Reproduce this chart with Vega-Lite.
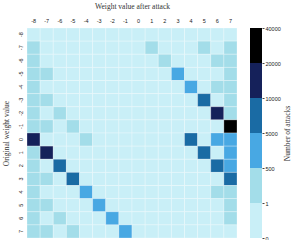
{
  "$schema": "https://vega.github.io/schema/vega-lite/v6.json",
  "padding": {"left": 2, "top": 2, "right": 0, "bottom": 0},
  "background": "white",
  "config": {
    "view": {"stroke": null},
    "concat": {"spacing": 12},
    "axis": {"labelFont": "Liberation Sans", "labelFontSize": 5.5, "labelColor": "#222", "titleFont": "Liberation Serif", "titleFontSize": 7.5, "titleFontWeight": "normal", "titleColor": "#333"}
  },
  "datasets": {
    "cells": [
      {"original": -8, "after": -8, "count": 0}, {"original": -8, "after": -7, "count": 0}, {"original": -8, "after": -6, "count": 0}, {"original": -8, "after": -5, "count": 0}, {"original": -8, "after": -4, "count": 0}, {"original": -8, "after": -3, "count": 0}, {"original": -8, "after": -2, "count": 0}, {"original": -8, "after": -1, "count": 0}, {"original": -8, "after": 0, "count": 0}, {"original": -8, "after": 1, "count": 0}, {"original": -8, "after": 2, "count": 0}, {"original": -8, "after": 3, "count": 0}, {"original": -8, "after": 4, "count": 0}, {"original": -8, "after": 5, "count": 0}, {"original": -8, "after": 6, "count": 0}, {"original": -8, "after": 7, "count": 0},
      {"original": -7, "after": -8, "count": 150}, {"original": -7, "after": -7, "count": 0}, {"original": -7, "after": -6, "count": 0}, {"original": -7, "after": -5, "count": 0}, {"original": -7, "after": -4, "count": 0}, {"original": -7, "after": -3, "count": 0}, {"original": -7, "after": -2, "count": 0}, {"original": -7, "after": -1, "count": 0}, {"original": -7, "after": 0, "count": 0}, {"original": -7, "after": 1, "count": 40}, {"original": -7, "after": 2, "count": 0}, {"original": -7, "after": 3, "count": 0}, {"original": -7, "after": 4, "count": 0}, {"original": -7, "after": 5, "count": 40}, {"original": -7, "after": 6, "count": 0}, {"original": -7, "after": 7, "count": 150},
      {"original": -6, "after": -8, "count": 150}, {"original": -6, "after": -7, "count": 0}, {"original": -6, "after": -6, "count": 0}, {"original": -6, "after": -5, "count": 0}, {"original": -6, "after": -4, "count": 0}, {"original": -6, "after": -3, "count": 0}, {"original": -6, "after": -2, "count": 0}, {"original": -6, "after": -1, "count": 0}, {"original": -6, "after": 0, "count": 0}, {"original": -6, "after": 1, "count": 0}, {"original": -6, "after": 2, "count": 40}, {"original": -6, "after": 3, "count": 0}, {"original": -6, "after": 4, "count": 0}, {"original": -6, "after": 5, "count": 0}, {"original": -6, "after": 6, "count": 60}, {"original": -6, "after": 7, "count": 150},
      {"original": -5, "after": -8, "count": 150}, {"original": -5, "after": -7, "count": 60}, {"original": -5, "after": -6, "count": 0}, {"original": -5, "after": -5, "count": 0}, {"original": -5, "after": -4, "count": 0}, {"original": -5, "after": -3, "count": 0}, {"original": -5, "after": -2, "count": 0}, {"original": -5, "after": -1, "count": 0}, {"original": -5, "after": 0, "count": 0}, {"original": -5, "after": 1, "count": 0}, {"original": -5, "after": 2, "count": 0}, {"original": -5, "after": 3, "count": 2000}, {"original": -5, "after": 4, "count": 0}, {"original": -5, "after": 5, "count": 0}, {"original": -5, "after": 6, "count": 0}, {"original": -5, "after": 7, "count": 150},
      {"original": -4, "after": -8, "count": 150}, {"original": -4, "after": -7, "count": 0}, {"original": -4, "after": -6, "count": 0}, {"original": -4, "after": -5, "count": 0}, {"original": -4, "after": -4, "count": 0}, {"original": -4, "after": -3, "count": 0}, {"original": -4, "after": -2, "count": 0}, {"original": -4, "after": -1, "count": 0}, {"original": -4, "after": 0, "count": 0}, {"original": -4, "after": 1, "count": 0}, {"original": -4, "after": 2, "count": 0}, {"original": -4, "after": 3, "count": 0}, {"original": -4, "after": 4, "count": 2000}, {"original": -4, "after": 5, "count": 0}, {"original": -4, "after": 6, "count": 60}, {"original": -4, "after": 7, "count": 150},
      {"original": -3, "after": -8, "count": 150}, {"original": -3, "after": -7, "count": 60}, {"original": -3, "after": -6, "count": 0}, {"original": -3, "after": -5, "count": 0}, {"original": -3, "after": -4, "count": 0}, {"original": -3, "after": -3, "count": 0}, {"original": -3, "after": -2, "count": 0}, {"original": -3, "after": -1, "count": 0}, {"original": -3, "after": 0, "count": 0}, {"original": -3, "after": 1, "count": 0}, {"original": -3, "after": 2, "count": 0}, {"original": -3, "after": 3, "count": 0}, {"original": -3, "after": 4, "count": 0}, {"original": -3, "after": 5, "count": 7000}, {"original": -3, "after": 6, "count": 0}, {"original": -3, "after": 7, "count": 150},
      {"original": -2, "after": -8, "count": 150}, {"original": -2, "after": -7, "count": 0}, {"original": -2, "after": -6, "count": 60}, {"original": -2, "after": -5, "count": 0}, {"original": -2, "after": -4, "count": 0}, {"original": -2, "after": -3, "count": 0}, {"original": -2, "after": -2, "count": 0}, {"original": -2, "after": -1, "count": 0}, {"original": -2, "after": 0, "count": 0}, {"original": -2, "after": 1, "count": 0}, {"original": -2, "after": 2, "count": 0}, {"original": -2, "after": 3, "count": 0}, {"original": -2, "after": 4, "count": 0}, {"original": -2, "after": 5, "count": 0}, {"original": -2, "after": 6, "count": 15000}, {"original": -2, "after": 7, "count": 150},
      {"original": -1, "after": -8, "count": 150}, {"original": -1, "after": -7, "count": 60}, {"original": -1, "after": -6, "count": 0}, {"original": -1, "after": -5, "count": 60}, {"original": -1, "after": -4, "count": 0}, {"original": -1, "after": -3, "count": 0}, {"original": -1, "after": -2, "count": 0}, {"original": -1, "after": -1, "count": 0}, {"original": -1, "after": 0, "count": 0}, {"original": -1, "after": 1, "count": 0}, {"original": -1, "after": 2, "count": 0}, {"original": -1, "after": 3, "count": 0}, {"original": -1, "after": 4, "count": 0}, {"original": -1, "after": 5, "count": 0}, {"original": -1, "after": 6, "count": 0}, {"original": -1, "after": 7, "count": 30000},
      {"original": 0, "after": -8, "count": 15000}, {"original": 0, "after": -7, "count": 0}, {"original": 0, "after": -6, "count": 0}, {"original": 0, "after": -5, "count": 0}, {"original": 0, "after": -4, "count": 60}, {"original": 0, "after": -3, "count": 0}, {"original": 0, "after": -2, "count": 0}, {"original": 0, "after": -1, "count": 0}, {"original": 0, "after": 0, "count": 0}, {"original": 0, "after": 1, "count": 0}, {"original": 0, "after": 2, "count": 0}, {"original": 0, "after": 3, "count": 0}, {"original": 0, "after": 4, "count": 7000}, {"original": 0, "after": 5, "count": 0}, {"original": 0, "after": 6, "count": 2000}, {"original": 0, "after": 7, "count": 2000},
      {"original": 1, "after": -8, "count": 150}, {"original": 1, "after": -7, "count": 15000}, {"original": 1, "after": -6, "count": 0}, {"original": 1, "after": -5, "count": 0}, {"original": 1, "after": -4, "count": 0}, {"original": 1, "after": -3, "count": 0}, {"original": 1, "after": -2, "count": 0}, {"original": 1, "after": -1, "count": 0}, {"original": 1, "after": 0, "count": 0}, {"original": 1, "after": 1, "count": 0}, {"original": 1, "after": 2, "count": 0}, {"original": 1, "after": 3, "count": 0}, {"original": 1, "after": 4, "count": 0}, {"original": 1, "after": 5, "count": 7000}, {"original": 1, "after": 6, "count": 0}, {"original": 1, "after": 7, "count": 2000},
      {"original": 2, "after": -8, "count": 150}, {"original": 2, "after": -7, "count": 0}, {"original": 2, "after": -6, "count": 7000}, {"original": 2, "after": -5, "count": 0}, {"original": 2, "after": -4, "count": 0}, {"original": 2, "after": -3, "count": 0}, {"original": 2, "after": -2, "count": 0}, {"original": 2, "after": -1, "count": 0}, {"original": 2, "after": 0, "count": 0}, {"original": 2, "after": 1, "count": 0}, {"original": 2, "after": 2, "count": 0}, {"original": 2, "after": 3, "count": 0}, {"original": 2, "after": 4, "count": 0}, {"original": 2, "after": 5, "count": 0}, {"original": 2, "after": 6, "count": 7000}, {"original": 2, "after": 7, "count": 2000},
      {"original": 3, "after": -8, "count": 150}, {"original": 3, "after": -7, "count": 60}, {"original": 3, "after": -6, "count": 0}, {"original": 3, "after": -5, "count": 7000}, {"original": 3, "after": -4, "count": 0}, {"original": 3, "after": -3, "count": 0}, {"original": 3, "after": -2, "count": 0}, {"original": 3, "after": -1, "count": 0}, {"original": 3, "after": 0, "count": 0}, {"original": 3, "after": 1, "count": 0}, {"original": 3, "after": 2, "count": 0}, {"original": 3, "after": 3, "count": 0}, {"original": 3, "after": 4, "count": 0}, {"original": 3, "after": 5, "count": 0}, {"original": 3, "after": 6, "count": 0}, {"original": 3, "after": 7, "count": 7000},
      {"original": 4, "after": -8, "count": 150}, {"original": 4, "after": -7, "count": 0}, {"original": 4, "after": -6, "count": 0}, {"original": 4, "after": -5, "count": 0}, {"original": 4, "after": -4, "count": 2000}, {"original": 4, "after": -3, "count": 0}, {"original": 4, "after": -2, "count": 0}, {"original": 4, "after": -1, "count": 0}, {"original": 4, "after": 0, "count": 0}, {"original": 4, "after": 1, "count": 0}, {"original": 4, "after": 2, "count": 0}, {"original": 4, "after": 3, "count": 0}, {"original": 4, "after": 4, "count": 0}, {"original": 4, "after": 5, "count": 0}, {"original": 4, "after": 6, "count": 60}, {"original": 4, "after": 7, "count": 150},
      {"original": 5, "after": -8, "count": 150}, {"original": 5, "after": -7, "count": 60}, {"original": 5, "after": -6, "count": 0}, {"original": 5, "after": -5, "count": 0}, {"original": 5, "after": -4, "count": 0}, {"original": 5, "after": -3, "count": 2000}, {"original": 5, "after": -2, "count": 0}, {"original": 5, "after": -1, "count": 0}, {"original": 5, "after": 0, "count": 0}, {"original": 5, "after": 1, "count": 0}, {"original": 5, "after": 2, "count": 0}, {"original": 5, "after": 3, "count": 0}, {"original": 5, "after": 4, "count": 0}, {"original": 5, "after": 5, "count": 0}, {"original": 5, "after": 6, "count": 0}, {"original": 5, "after": 7, "count": 150},
      {"original": 6, "after": -8, "count": 150}, {"original": 6, "after": -7, "count": 0}, {"original": 6, "after": -6, "count": 60}, {"original": 6, "after": -5, "count": 0}, {"original": 6, "after": -4, "count": 0}, {"original": 6, "after": -3, "count": 0}, {"original": 6, "after": -2, "count": 2000}, {"original": 6, "after": -1, "count": 0}, {"original": 6, "after": 0, "count": 0}, {"original": 6, "after": 1, "count": 0}, {"original": 6, "after": 2, "count": 0}, {"original": 6, "after": 3, "count": 0}, {"original": 6, "after": 4, "count": 0}, {"original": 6, "after": 5, "count": 0}, {"original": 6, "after": 6, "count": 0}, {"original": 6, "after": 7, "count": 150},
      {"original": 7, "after": -8, "count": 150}, {"original": 7, "after": -7, "count": 60}, {"original": 7, "after": -6, "count": 0}, {"original": 7, "after": -5, "count": 60}, {"original": 7, "after": -4, "count": 0}, {"original": 7, "after": -3, "count": 0}, {"original": 7, "after": -2, "count": 0}, {"original": 7, "after": -1, "count": 2000}, {"original": 7, "after": 0, "count": 0}, {"original": 7, "after": 1, "count": 0}, {"original": 7, "after": 2, "count": 0}, {"original": 7, "after": 3, "count": 0}, {"original": 7, "after": 4, "count": 0}, {"original": 7, "after": 5, "count": 0}, {"original": 7, "after": 6, "count": 0}, {"original": 7, "after": 7, "count": 0}
    ],
    "bins": [
      {"lo": 0, "hi": 1}, {"lo": 1, "hi": 500}, {"lo": 500, "hi": 5000}, {"lo": 5000, "hi": 10000}, {"lo": 10000, "hi": 20000}, {"lo": 20000, "hi": 40000}
    ]
  },
  "resolve": {"scale": {"color": "independent"}},
  "hconcat": [
    {
      "data": {"name": "cells"},
      "width": 210,
      "height": 210,
      "mark": {"type": "rect", "stroke": "#ffffff", "strokeWidth": 0.6, "strokeOpacity": 0.45},
      "encoding": {
        "x": {"field": "after", "type": "ordinal", "sort": "ascending", "scale": {"paddingInner": 0, "paddingOuter": 0},
              "axis": {"orient": "top", "title": "Weight value after attack", "labelAngle": 0, "ticks": false, "domain": false, "labelPadding": 5, "titlePadding": 8}},
        "y": {"field": "original", "type": "ordinal", "sort": "ascending", "scale": {"paddingInner": 0, "paddingOuter": 0},
              "axis": {"title": "Original weight value", "labelAngle": 270, "ticks": false, "domain": false, "labelPadding": 4, "titlePadding": 8}},
        "color": {"field": "count", "type": "quantitative",
                  "scale": {"type": "threshold", "domain": [1, 500, 5000, 10000, 20000], "range": ["#c9eff7", "#a3dde9", "#48a8e3", "#1a6ba4", "#15215a", "#000000"]},
                  "legend": null}
      }
    },
    {
      "data": {"name": "bins"},
      "width": 12,
      "height": 210,
      "mark": {"type": "rect"},
      "encoding": {
        "y": {"field": "lo", "type": "quantitative",
              "scale": {"domain": [0, 1, 500, 5000, 10000, 20000, 40000], "range": [210, 175, 140, 105, 70, 35, 0]},
              "axis": {"orient": "right", "title": "Number of attacks", "titleAngle": 270, "values": [0, 1, 500, 5000, 10000, 20000, 40000], "format": "d", "domain": false, "grid": false, "ticks": true, "tickSize": 2, "tickColor": "#444", "labelPadding": 1, "titlePadding": 11}},
        "y2": {"field": "hi"},
        "color": {"field": "lo", "type": "quantitative",
                  "scale": {"type": "threshold", "domain": [1, 500, 5000, 10000, 20000], "range": ["#c9eff7", "#a3dde9", "#48a8e3", "#1a6ba4", "#15215a", "#000000"]},
                  "legend": null}
      }
    }
  ]
}
